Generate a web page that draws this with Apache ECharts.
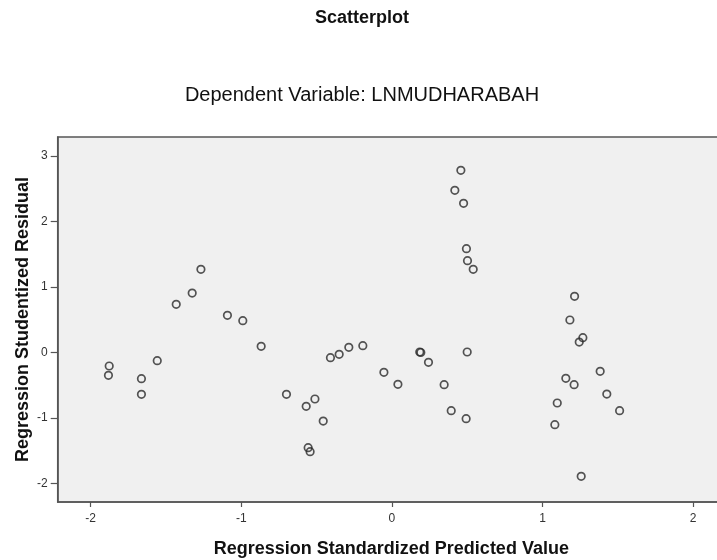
<!DOCTYPE html>
<html>
<head>
<meta charset="utf-8">
<script src="https://cdn.jsdelivr.net/npm/echarts@6/dist/echarts.min.js"></script>
<style>
  html, body { margin: 0; padding: 0; background: #fff; }
  #chart { width: 717px; height: 560px; }
</style>
</head>
<body>
<div id="chart"></div>
<script>
// Regression Standardized Predicted Value (x) and Studentized Residual (y)
const predicted = [
  -1.877, -1.882, -1.558, -1.663, -1.663,
  -1.432, -1.326, -1.268, -1.092, -0.990, -0.868,
  -0.700, -0.569, -0.511, -0.456, -0.556, -0.543,
  -0.408, -0.350, -0.286, -0.193, -0.053, 0.040,
  0.185, 0.192, 0.243, 0.347, 0.394, 0.493, 0.500,
  0.458, 0.418, 0.476, 0.495, 0.502, 0.540,
  1.213, 1.182, 1.268, 1.244, 1.383, 1.155, 1.210,
  1.427, 1.098, 1.512, 1.082, 1.257
]
const residual = [
  -0.209, -0.351, -0.128, -0.403, -0.641,
  0.733, 0.905, 1.267, 0.565, 0.483, 0.092,
  -0.641, -0.824, -0.713, -1.049, -1.456, -1.517,
  -0.082, -0.031, 0.076, 0.101, -0.305, -0.489,
  0.005, -0.003, -0.153, -0.494, -0.891, -1.013, 0.005,
  2.779, 2.473, 2.275, 1.582, 1.399, 1.267,
  0.855, 0.493, 0.223, 0.157, -0.290, -0.397, -0.494,
  -0.637, -0.774, -0.891, -1.105, -1.893
]
const xTicks = [-2, -1, 0, 1, 2]
const yTicks = [-2, -1, 0, 1, 2, 3]

const font = 'Liberation Sans, Arial, sans-serif'
const chart = echarts.init(document.getElementById('chart'))

chart.setOption({
  backgroundColor: '#fff',
  animation: false,
  graphic: [
    {
      type: 'text', x: 362, y: 18,
      style: {
        text: 'Scatterplot', fill: '#111',
        font: 'bold 18px ' + font,
        align: 'center', verticalAlign: 'middle',
        textAlign: 'center', textVerticalAlign: 'middle'
      }
    },
    {
      type: 'text', x: 362, y: 95,
      style: {
        text: 'Dependent Variable: LNMUDHARABAH', fill: '#111',
        font: '20px ' + font,
        align: 'center', verticalAlign: 'middle',
        textAlign: 'center', textVerticalAlign: 'middle'
      }
    }
  ],
  grid: {
    left: 57.7,
    top: 137,
    right: -2,
    bottom: 58,
    outerBoundsMode: 'none',
    containLabel: false,
    show: true,
    backgroundColor: '#f0f0f0',
    borderColor: '#555',
    borderWidth: 1.5
  },
  xAxis: {
    type: 'value',
    min: -2.219,
    max: 2.172,
    name: 'Regression Standardized Predicted Value',
    nameLocation: 'middle',
    nameGap: 38,
    nameMoveOverlap: false,
    nameTextStyle: { fontFamily: font, fontWeight: 'bold', fontSize: 18, color: '#111', padding: [0, 0, 0, 6] },
    axisLine: { show: true, onZero: false, lineStyle: { color: '#555', width: 1.5 } },
    axisTick: { show: true, inside: false, length: 5, customValues: xTicks, lineStyle: { color: '#555', width: 1.2 } },
    axisLabel: { customValues: xTicks, margin: 11, fontFamily: font, fontSize: 12, color: '#333' },
    splitLine: { show: false }
  },
  yAxis: {
    type: 'value',
    min: -2.285,
    max: 3.287,
    name: 'Regression Studentized Residual',
    nameLocation: 'middle',
    nameGap: 26,
    nameRotate: 90,
    nameMoveOverlap: false,
    nameTextStyle: { fontFamily: font, fontWeight: 'bold', fontSize: 18, color: '#111' },
    axisLine: { show: true, onZero: false, lineStyle: { color: '#555', width: 1.5 } },
    axisTick: { show: true, inside: false, length: 7, customValues: yTicks, lineStyle: { color: '#555', width: 1.2 } },
    axisLabel: { customValues: yTicks, margin: 10, fontFamily: font, fontSize: 12, color: '#333' },
    splitLine: { show: false }
  },
  series: [{
    type: 'scatter',
    symbol: 'circle',
    symbolSize: 7.5,
    data: predicted.map((x, i) => [x, residual[i]]),
    itemStyle: {
      color: 'rgba(0,0,0,0)',
      borderColor: '#2a2a2a',
      borderWidth: 1.7
    }
  }]
})
</script>
</body>
</html>
